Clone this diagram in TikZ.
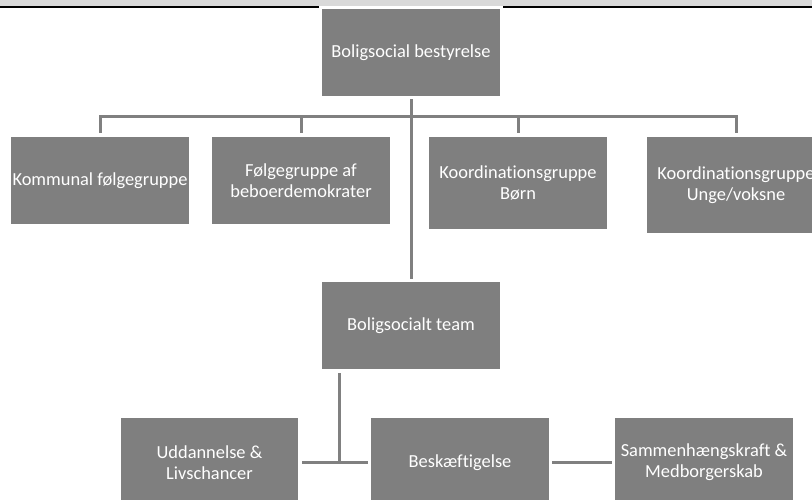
\documentclass[tikz,border=0pt]{standalone}
\usepackage{fontspec}
\setmainfont{Carlito}[Ligatures={NoCommon}]
\definecolor{boxgray}{HTML}{7F7F7F}
\definecolor{linegray}{HTML}{808080}
\definecolor{bandgray}{HTML}{D9D9D9}
\tikzset{
  orgbox/.style={fill=boxgray, draw=none, text=white, inner sep=0pt,
    font=\fontsize{18.4}{21}\selectfont, align=center,
    minimum width=178pt, minimum height=87pt},
  link/.style={draw=linegray, line width=3pt}
}
\begin{document}
\begin{tikzpicture}[x=1pt,y=-1pt]
\useasboundingbox (0,0) rectangle (812,499);
\begin{scope}
\clip (0,0) rectangle (812,499);
% top band
\fill[bandgray] (0,0) rectangle (812,5.5);
\draw[black, line width=2pt] (0,6.5) -- (812,6.5);
\fill[white] (319,5.5) rectangle (503,99);
% boxes
\node[orgbox] (top) at (411,52.5) {Boligsocial bestyrelse};
\node[orgbox] (k1) at (100,180.5) {Kommunal følgegruppe};
\node[orgbox] (k2) at (301,180.5) {Følgegruppe af\\beboerdemokrater};
\node[orgbox, minimum height=92pt] (k3) at (518,183) {Koordinationsgruppe\\Børn};
\node[orgbox, minimum height=96pt] (k4) at (736,185) {Koordinationsgruppe\\Unge/voksne};
\node[orgbox] (team) at (411,325.5) {Boligsocialt team};
\node[orgbox, minimum width=177pt, minimum height=89pt] (ud) at (209.5,462.5) {Uddannelse \&\\Livschancer};
\node[orgbox, minimum height=89pt] (besk) at (460,462.5) {Beskæftigelse};
\node[orgbox, minimum height=89pt] (sam) at (704,462.5) {Sammenhængskraft \&\\Medborgerskab};
% connectors
\coordinate (bus) at (0,116.5);
\draw[link] ([yshift=-3pt]top.south) -- ([yshift=3pt]team.north);
\draw[link] ([yshift=4pt]k1.north) -- (k1.north |- bus) -- (k4.north |- bus) -- ([yshift=4pt]k4.north);
\draw[link] ([yshift=4pt]k2.north) -- (k2.north |- bus);
\draw[link] ([yshift=4pt]k3.north) -- (k3.north |- bus);
\coordinate (tdrop) at ([xshift=-72pt,yshift=-4pt]team.south);
\draw[link] (tdrop) -- (tdrop |- ud.east);
\draw[link] ([xshift=4pt]ud.east) -- ([xshift=-3pt]besk.west);
\draw[link] ([xshift=3pt]besk.east) -- ([xshift=-3pt]sam.west);
\end{scope}
\end{tikzpicture}
\end{document}
